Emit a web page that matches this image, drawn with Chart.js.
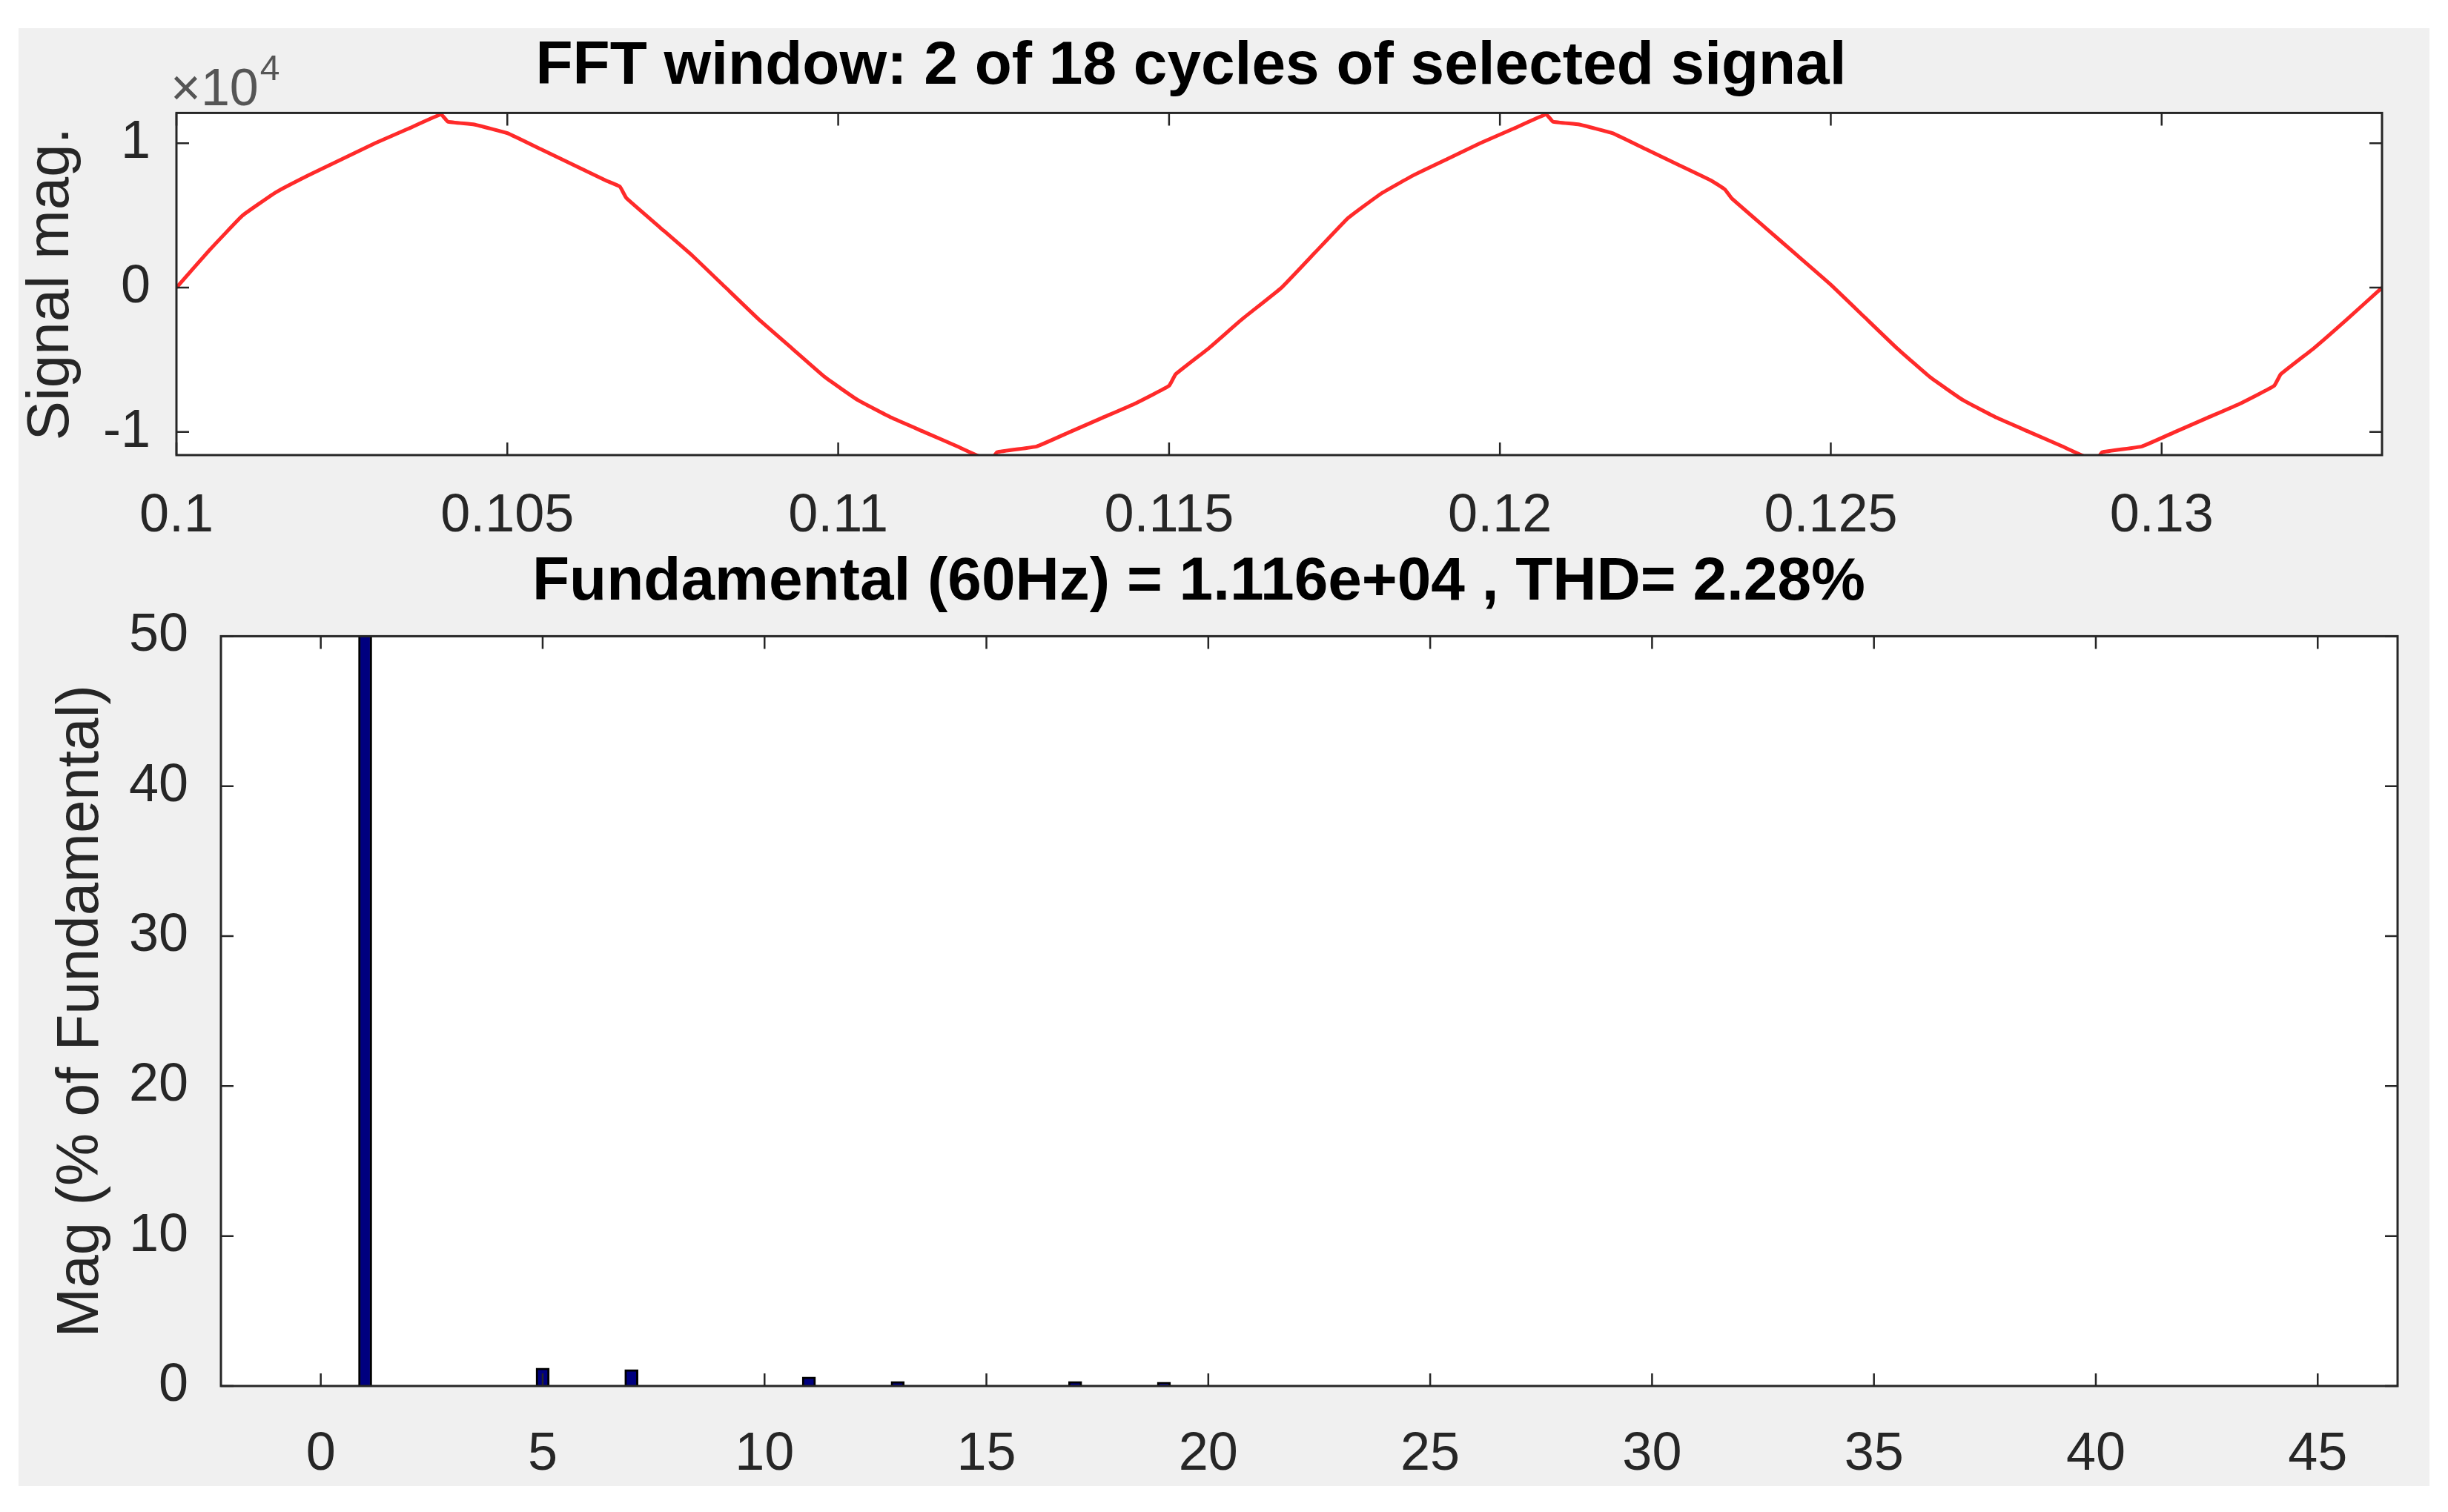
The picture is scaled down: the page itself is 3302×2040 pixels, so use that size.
<!DOCTYPE html>
<html><head><meta charset="utf-8">
<script src="https://cdn.jsdelivr.net/npm/chart.js@4"></script>
<style>
html,body{margin:0;padding:0;background:#fff;width:3302px;height:2040px;overflow:hidden;font-family:"Liberation Sans",Arial,sans-serif}
#bg{position:absolute;left:25px;top:38px;width:3252px;height:1967px;background:#f0f0f0}
canvas{position:absolute;left:0}
</style></head><body>
<div id="bg"></div>
<div style="position:absolute;left:0;top:0;width:3302px;height:760px"><canvas id="c1"></canvas></div>
<div style="position:absolute;left:0;top:700px;width:3302px;height:1340px"><canvas id="c2"></canvas></div>
<script>
// Signal (time in s, magnitude in units of 1e4)
const sigTime = [0.1000,0.1005,0.1010,0.1015,0.1020,0.1025,0.1030,0.1035,0.1040,0.1041,0.1045,0.1050,0.1055,0.1060,0.1065,0.1067,0.1068,0.1073,0.1078,0.1083,0.1088,0.1093,0.1098,0.1103,0.1108,0.1113,0.1118,0.1123,0.1124,0.1130,0.1135,0.1140,0.1145,0.1150,0.1151,0.1156,0.1161,0.1167,
0.1172,0.1177,0.1182,0.1187,0.1192,0.1197,0.1202,0.1207,0.1208,0.1212,0.1217,0.1222,0.1227,0.1232,0.1234,0.1235,0.1240,0.1245,0.1250,0.1255,0.1260,0.1265,0.1270,0.1275,0.1280,0.1285,0.1290,0.1291,0.1297,0.1302,0.1307,0.1312,0.1317,0.1318,0.1323,0.1328,0.13333];
const sigMag = [0.00,0.26,0.50,0.66,0.78,0.89,1.00,1.10,1.20,1.15,1.13,1.07,0.96,0.85,0.74,0.70,0.62,0.42,0.22,0.00,-0.22,-0.42,-0.62,-0.78,-0.90,-1.00,-1.10,-1.20,-1.14,-1.10,-1.00,-0.90,-0.80,-0.68,-0.60,-0.42,-0.22,0.00,
0.24,0.48,0.65,0.78,0.89,1.00,1.10,1.20,1.15,1.13,1.07,0.96,0.85,0.74,0.68,0.62,0.42,0.22,0.02,-0.20,-0.42,-0.62,-0.78,-0.90,-1.00,-1.10,-1.20,-1.14,-1.10,-1.00,-0.90,-0.80,-0.68,-0.60,-0.42,-0.22,0.00];
const harmonicOrder = [1,5,7,11,13,17,19];
const harmonicMag = [100,1.2,1.1,0.6,0.3,0.3,0.25];
const topXTicks = [0.1,0.105,0.11,0.115,0.12,0.125,0.13];
const topYTicks = [-1,0,1];
const botXTicks = [0,5,10,15,20,25,30,35,40,45];
const botYTicks = [0,10,20,30,40,50];
const title1 = 'FFT window: 2 of 18 cycles of selected signal';
const title2 = 'Fundamental (60Hz) = 1.116e+04 , THD= 2.28%';

const FONT = '"Liberation Sans", Arial, sans-serif';
const TICK = 17;
const framePlugin = {
  id:'frame',
  beforeDraw(c){const a=c.chartArea,x=c.ctx;x.save();x.fillStyle='#fff';x.fillRect(a.left,a.top,a.right-a.left,a.bottom-a.top);x.restore();},
  afterDraw(c,args,o){
    const a=c.chartArea,x=c.ctx;x.save();x.strokeStyle='#262626';x.lineWidth=3;
    x.strokeRect(a.left,a.top,a.right-a.left,a.bottom-a.top);
    x.lineWidth=2.5;x.beginPath();
    c.scales.x.ticks.forEach(t=>{const p=c.scales.x.getPixelForValue(t.value);x.moveTo(p,a.bottom);x.lineTo(p,a.bottom-TICK);x.moveTo(p,a.top);x.lineTo(p,a.top+TICK);});
    c.scales.y.ticks.forEach(t=>{const p=c.scales.y.getPixelForValue(t.value);x.moveTo(a.left,p);x.lineTo(a.left+TICK,p);x.moveTo(a.right,p);x.lineTo(a.right-TICK,p);});
    x.stroke();
    if(o.exp){
      x.fillStyle='#555';x.textBaseline='alphabetic';
      x.font='70px '+FONT;const w=x.measureText('\u00d710').width;
      x.fillText('\u00d710',a.left-8,a.top-10);
      x.font='48px '+FONT;x.fillText('4',a.left-8+w+2,a.top-44);
    }
    x.restore();
  }
};
function fixTicks(list){return s=>{s.ticks=list.map(v=>({value:v}));};}
const tickFont={family:FONT,size:72};
const col='#262626';

new Chart(document.getElementById('c1'),{
  type:'line',
  data:{datasets:[{data:sigTime.map((t,i)=>({x:t,y:sigMag[i]})),borderColor:'#ff2a2a',borderWidth:5,pointRadius:0,tension:0.1}]},
  options:{responsive:true,maintainAspectRatio:false,animation:false,
    layout:{padding:{left:0,right:89,top:0,bottom:0}},
    plugins:{legend:{display:false},tooltip:{enabled:false},frame:{exp:true},
      title:{display:true,text:title1,color:'#000',font:{family:FONT,size:82,weight:'bold'},padding:{top:41,bottom:13}}},
    scales:{
      x:{type:'linear',min:0.1,max:0.13333,afterBuildTicks:fixTicks(topXTicks),afterFit(s){s.height=146;},
        grid:{display:false},border:{display:false},
        ticks:{color:col,font:tickFont,padding:32,maxRotation:0,autoSkip:false,callback:v=>String(+v.toFixed(3))}},
      y:{type:'linear',min:-1.16,max:1.21,afterBuildTicks:fixTicks(topYTicks),afterFit(s){s.width=238;},
        grid:{display:false},border:{display:false},
        title:{display:true,text:'Signal mag.',color:col,font:{family:FONT,size:80},padding:{top:22,bottom:0}},
        ticks:{color:col,font:tickFont,padding:27,callback:v=>String(v)}}
    }},
  plugins:[framePlugin]
});

new Chart(document.getElementById('c2'),{
  type:'bar',
  data:{datasets:[{data:harmonicOrder.map((h,i)=>({x:h,y:harmonicMag[i]})),backgroundColor:'#00007f',borderColor:'#000',borderWidth:3,barThickness:18}]},
  options:{responsive:true,maintainAspectRatio:false,animation:false,
    layout:{padding:{left:0,right:68,top:0,bottom:0}},
    plugins:{legend:{display:false},tooltip:{enabled:false},frame:{exp:false},
      title:{display:true,text:title2,color:'#000',font:{family:FONT,size:82,weight:'bold'},padding:{top:37,bottom:23}}},
    scales:{
      x:{type:'linear',min:-2.25,max:46.8,offset:false,afterBuildTicks:fixTicks(botXTicks),afterFit(s){s.height=170;},
        grid:{display:false},border:{display:false},
        ticks:{color:col,font:tickFont,padding:42,maxRotation:0,autoSkip:false}},
      y:{type:'linear',min:0,max:50,afterBuildTicks:fixTicks(botYTicks),afterFit(s){s.width=298;},
        grid:{display:false},border:{display:false},
        title:{display:true,text:'Mag (% of Fundamental)',color:col,font:{family:FONT,size:80},padding:{top:62,bottom:0}},
        ticks:{color:col,font:tickFont,padding:36}}
    }},
  plugins:[framePlugin]
});
</script></body></html>
